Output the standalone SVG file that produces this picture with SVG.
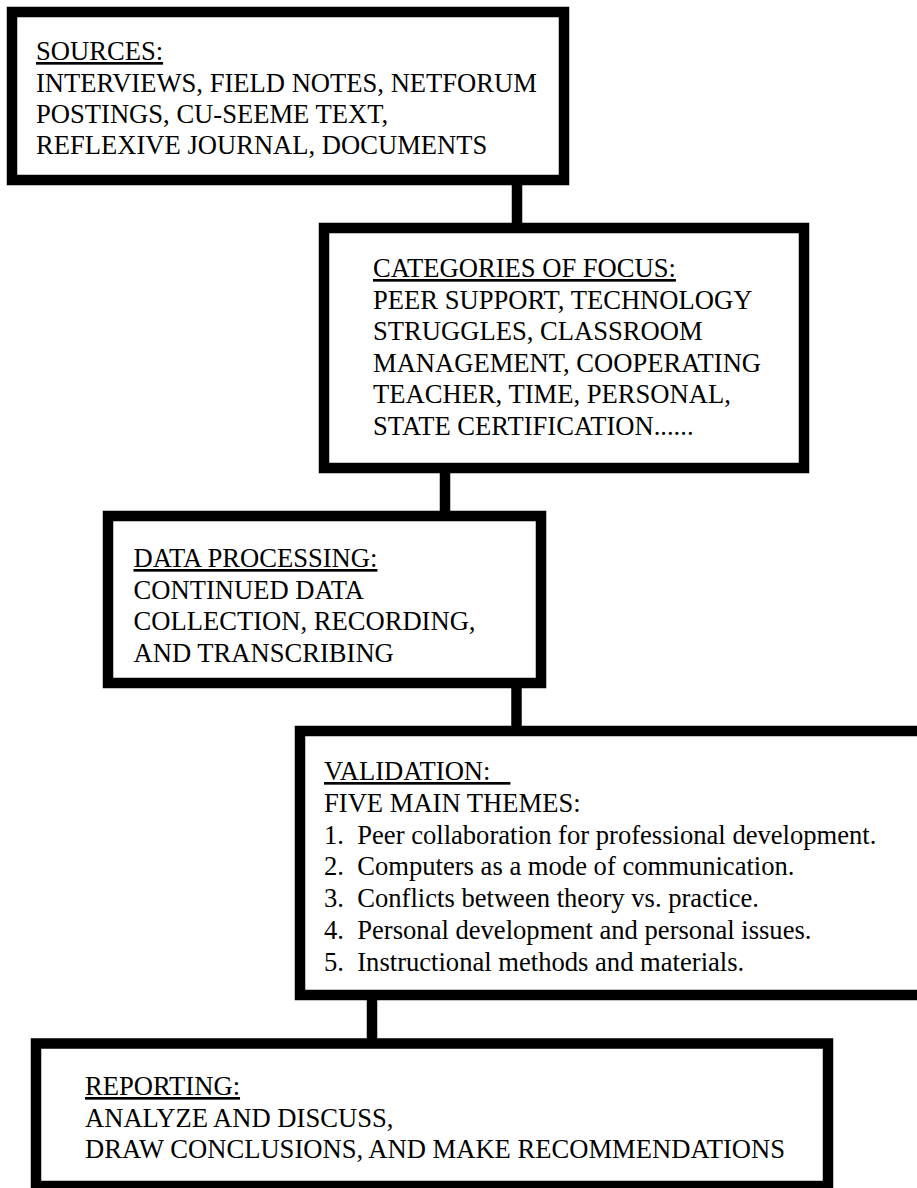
<svg xmlns="http://www.w3.org/2000/svg" width="917" height="1188" viewBox="0 0 917 1188">
<style>
.box{fill:#fff;stroke:#000;stroke-width:10.5}
.conn{stroke:#000;stroke-width:10.5;fill:none}
text{font-family:"Liberation Serif","Times New Roman",serif;font-size:26.6px;fill:#000}
.u{text-decoration:underline}
</style>
<rect x="0" y="0" width="917" height="1188" fill="#fff"/>
<g id="connectors">
<line class="conn" x1="517" y1="180" x2="517" y2="228"/>
<line class="conn" x1="445" y1="468" x2="445" y2="516"/>
<line class="conn" x1="516.5" y1="683" x2="516.5" y2="731"/>
<line class="conn" x1="372" y1="995" x2="372" y2="1043"/>
</g>
<g id="sources">
<rect class="box" x="12" y="12" width="552" height="168"/>
<text x="36" y="60" class="u">SOURCES:</text>
<text x="36" y="92">INTERVIEWS, FIELD NOTES, NETFORUM</text>
<text x="36" y="123">POSTINGS, CU-SEEME TEXT,</text>
<text x="36" y="154">REFLEXIVE JOURNAL, DOCUMENTS</text>
</g>
<g id="categories">
<rect class="box" x="324" y="228" width="480" height="240"/>
<text x="373" y="277" class="u">CATEGORIES OF FOCUS:</text>
<text x="373" y="308.5">PEER SUPPORT, TECHNOLOGY</text>
<text x="373" y="340">STRUGGLES, CLASSROOM</text>
<text x="373" y="371.5">MANAGEMENT, COOPERATING</text>
<text x="373" y="403">TEACHER, TIME, PERSONAL,</text>
<text x="373" y="434.5">STATE CERTIFICATION......</text>
</g>
<g id="processing">
<rect class="box" x="108" y="516" width="433" height="167"/>
<text x="133.5" y="567" class="u">DATA PROCESSING:</text>
<text x="133.5" y="598.5">CONTINUED DATA</text>
<text x="133.5" y="630">COLLECTION, RECORDING,</text>
<text x="133.5" y="661.5">AND TRANSCRIBING</text>
</g>
<g id="validation">
<rect class="box" x="300" y="731" width="625" height="264"/>
<text x="324" y="780" class="u">VALIDATION:&#160;&#160;&#160;</text>
<text x="324" y="812">FIVE MAIN THEMES:</text>
<text x="324" y="843.5">1.&#160; Peer collaboration for professional development.</text>
<text x="324" y="875">2.&#160; Computers as a mode of communication.</text>
<text x="324" y="907">3.&#160; Conflicts between theory vs. practice.</text>
<text x="324" y="939">4.&#160; Personal development and personal issues.</text>
<text x="324" y="971">5.&#160; Instructional methods and materials.</text>
</g>
<g id="reporting">
<rect class="box" x="36" y="1043.5" width="792" height="142.5"/>
<text x="85" y="1095" class="u">REPORTING:</text>
<text x="85" y="1127">ANALYZE AND DISCUSS,</text>
<text x="85" y="1158">DRAW CONCLUSIONS, AND MAKE RECOMMENDATIONS</text>
</g>
</svg>
